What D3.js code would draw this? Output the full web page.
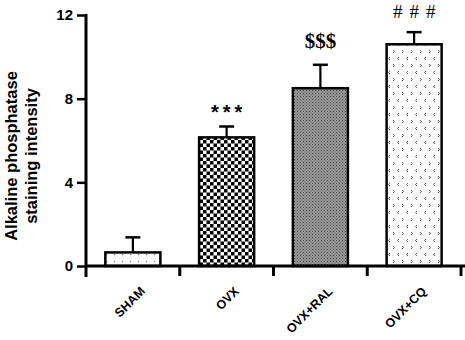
<!DOCTYPE html>
<html>
<head>
<meta charset="utf-8">
<script src="https://d3js.org/d3.v7.min.js"></script>
<style>
  body { margin: 0; background: #fff; }
  text { font-family: Arial, "Liberation Sans", sans-serif; }
</style>
</head>
<body>
<svg id="chart" width="465" height="340"></svg>
<script>
// data
const groups = ["SHAM", "OVX", "OVX+RAL", "OVX+CQ"];
const means = [0.65, 6.15, 8.5, 10.6];
const errors = [0.72, 0.52, 1.12, 0.58];
const marks = ["", "***", "$$$", "###"];
const yTicks = [0, 4, 8, 12];

const svg = d3.select("svg#chart");
const x0 = 86, x1 = 461, yTop = 15, yBase = 266;

const x = d3.scaleBand()
            .domain(groups)
            .range([x0, x1])
            .paddingInner(0.413)
            .paddingOuter(0.2065);
const y = d3.scaleLinear()
            .domain([0, 12])
            .range([yBase, yTop]);

// fill patterns
const defs = svg.append("defs");

let p = defs.append("pattern").attr("id", "pSham")
            .attr("patternUnits", "userSpaceOnUse").attr("width", 8).attr("height", 7);
p.append("rect").attr("width", 8).attr("height", 7).attr("fill", "#fff");
p.append("rect").attr("x", 2).attr("y", 2).attr("width", 1.2).attr("height", 1.2).attr("fill", "#777");

p = defs.append("pattern").attr("id", "pOvx")
        .attr("patternUnits", "userSpaceOnUse").attr("width", 7).attr("height", 7);
p.append("rect").attr("width", 7).attr("height", 7).attr("fill", "#fff");
p.append("rect").attr("width", 3.5).attr("height", 3.5).attr("fill", "#000");
p.append("rect").attr("x", 3.5).attr("y", 3.5).attr("width", 3.5).attr("height", 3.5).attr("fill", "#000");

p = defs.append("pattern").attr("id", "pRal")
        .attr("patternUnits", "userSpaceOnUse").attr("width", 3).attr("height", 3);
p.append("rect").attr("width", 3).attr("height", 3).attr("fill", "#9a9a9a");
p.append("rect").attr("width", 1).attr("height", 1).attr("fill", "#444");
p.append("rect").attr("x", 1.5).attr("y", 1.5).attr("width", 1).attr("height", 1).attr("fill", "#555");

p = defs.append("pattern").attr("id", "pCq")
        .attr("patternUnits", "userSpaceOnUse").attr("width", 9).attr("height", 14);
p.append("rect").attr("width", 9).attr("height", 14).attr("fill", "#fff");
p.append("path").attr("d", "M3,1 L1.5,2.5 L3,4").attr("fill", "none").attr("stroke", "#666").attr("stroke-width", 1);
p.append("path").attr("d", "M6,8 L7.5,9.5 L6,11").attr("fill", "none").attr("stroke", "#666").attr("stroke-width", 1);

const fills = ["url(#pSham)", "url(#pOvx)", "url(#pRal)", "url(#pCq)"];

// error bars
groups.forEach((g, i) => {
  const cx = x(g) + x.bandwidth() / 2;
  svg.append("line")
     .attr("x1", cx).attr("x2", cx)
     .attr("y1", y(means[i])).attr("y2", y(means[i] + errors[i]))
     .attr("stroke", "#000").attr("stroke-width", 2.2);
  svg.append("line")
     .attr("x1", cx - 7.5).attr("x2", cx + 7.5)
     .attr("y1", y(means[i] + errors[i])).attr("y2", y(means[i] + errors[i]))
     .attr("stroke", "#000").attr("stroke-width", 2.5);
});

// bars
groups.forEach((g, i) => {
  svg.append("rect")
     .attr("x", x(g))
     .attr("y", y(means[i]))
     .attr("width", x.bandwidth())
     .attr("height", y(0) - y(means[i]))
     .attr("fill", fills[i])
     .attr("stroke", "#000")
     .attr("stroke-width", 2.5);
});

// significance marks
const markFonts = [null,
  {family: "Arial, sans-serif", size: 20, weight: "bold", dy: -7, ls: 4},
  {family: "'Liberation Serif', 'Times New Roman', serif", size: 21, weight: "bold", dy: -17, ls: 0},
  {family: "'Liberation Serif', 'Times New Roman', serif", size: 19, weight: "normal", dy: -14.5, ls: 7}];
groups.forEach((g, i) => {
  if (!marks[i]) return;
  const f = markFonts[i];
  svg.append("text")
     .attr("x", x(g) + x.bandwidth() / 2 + f.ls / 2)
     .attr("y", y(means[i] + errors[i]) + f.dy)
     .attr("text-anchor", "middle")
     .style("font-family", f.family)
     .style("font-size", f.size + "px")
     .style("font-weight", f.weight)
     .style("letter-spacing", f.ls + "px")
     .text(marks[i]);
});

// y axis
const yAxis = d3.axisLeft(y).tickValues(yTicks).tickSize(9).tickPadding(4);
const ya = svg.append("g")
              .attr("transform", `translate(${x0}, 0)`)
              .call(yAxis);
ya.select(".domain").remove();
ya.selectAll("line").attr("stroke", "#000").attr("stroke-width", 2.5);
ya.selectAll("text")
  .style("font-family", "Arial, 'Liberation Sans', sans-serif")
  .style("font-size", "15px")
  .style("font-weight", "bold")
  .attr("fill", "#000");
svg.append("line")
   .attr("x1", x0).attr("x2", x0)
   .attr("y1", y(12) - 1).attr("y2", yBase + 11)
   .attr("stroke", "#000").attr("stroke-width", 3);

// x axis with ticks between groups
svg.append("line")
   .attr("x1", x0).attr("x2", 465)
   .attr("y1", yBase).attr("y2", yBase)
   .attr("stroke", "#000").attr("stroke-width", 3);
groups.forEach(g => {
  const bx = x(g) + x.bandwidth() + (x.step() - x.bandwidth()) / 2;
  svg.append("line")
     .attr("x1", bx).attr("x2", bx)
     .attr("y1", yBase).attr("y2", yBase + 10)
     .attr("stroke", "#000").attr("stroke-width", 3);
});

// x labels
groups.forEach(g => {
  const lx = x(g) + x.bandwidth() / 2 + 13;
  svg.append("text")
     .attr("transform", `translate(${lx}, 292) rotate(-45)`)
     .attr("text-anchor", "end")
     .style("font-size", "12.5px")
     .style("font-weight", "900")
     .text(g);
});

// y label
const yl = svg.append("text")
              .attr("transform", "translate(12, 156) rotate(-90)")
              .attr("text-anchor", "middle")
              .style("font-size", "16.5px")
              .style("font-weight", "bold");
yl.append("tspan").attr("x", 0).attr("dy", 5).text("Alkaline phosphatase");
yl.append("tspan").attr("x", 0).attr("dy", 20).text("staining intensity");
</script>
</body>
</html>
